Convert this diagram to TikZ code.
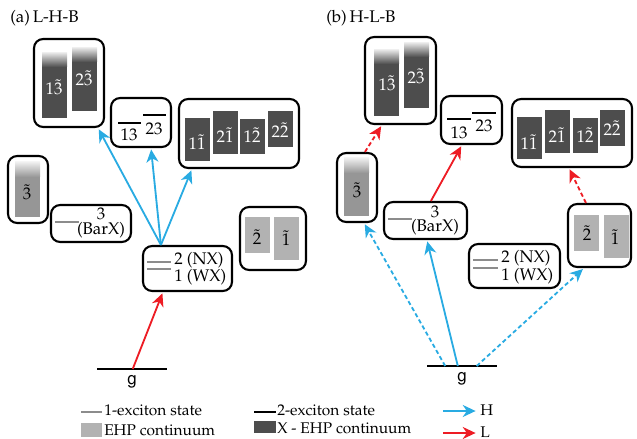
\documentclass[tikz,border=0pt]{standalone}
\usepackage[T1]{fontenc}
\usepackage{mathpazo}
\usepackage{helvet}
\usepackage{tikz}
\usetikzlibrary{positioning,calc,arrows.meta}

\definecolor{hblue}{RGB}{41,171,226}
\definecolor{lred}{RGB}{237,28,36}
\definecolor{xgray}{RGB}{77,77,77}
\definecolor{egray}{RGB}{178,178,178}
\definecolor{mgray}{RGB}{150,150,150}
\definecolor{lgray}{RGB}{140,140,140}

\tikzset{
  statebox/.style={draw, line width=1.5pt, rounded corners=2.3mm, inner sep=0pt},
  onex/.style={lgray, line width=1.3pt},
  twox/.style={black, line width=1.3pt},
  harr/.style={hblue, line width=1.3pt, shorten >=1pt,
    -{Stealth[length=3.2mm,width=3mm,inset=1mm]}},
  larr/.style={lred, line width=1.3pt, shorten >=1pt,
    -{Stealth[length=3.2mm,width=3mm,inset=1mm]}},
  xfade/.style={top color=xgray!15, bottom color=xgray},
  mfade/.style={top color=mgray!15, bottom color=mgray},
  blab/.style={text=white, inner sep=0pt, font=\fontsize{12}{14}\selectfont},
  klab/.style={inner sep=0pt, font=\fontsize{12}{14}\selectfont},
  leg/.style={inner sep=0pt, anchor=base west, font=\fontsize{11}{13}\selectfont},
}

\begin{document}
\begin{tikzpicture}[x=0.025cm, y=-0.025cm]
  \useasboundingbox (0,0) rectangle (637,439);

  % (a) L-H-B
  \node[klab, anchor=base west] (ta) at (10,22.5) {(a)\,L-H-B};

  \node[statebox, minimum width=1.75cm, minimum height=2.2cm] (a1) at (69,83) {};
  \fill[xgray] (42,53) rectangle (67,118);
  \shade[xfade] (42,53) rectangle (67,67);
  \fill[xgray] (72,48) rectangle (97,111);
  \shade[xfade] (72,48) rectangle (97,62);
  \node[blab] (a13) at (54,87) {$1\tilde{3}$};
  \node[blab] (a23) at (84,78) {$2\tilde{3}$};

  \node[statebox, minimum width=1.5cm, minimum height=1.225cm] (a2) at (141,122.5) {};
  \draw[twox] (118,123) -- (141,123);
  \draw[twox] (143,115) -- (166,115);
  \node[klab] (a13l) at (129,134.5) {13};
  \node[klab] (a23l) at (154,129) {23};

  \node[statebox, minimum width=3cm, minimum height=1.725cm] (a3) at (239,133.5) {};
  \fill[xgray] (185,118) rectangle (210,161);
  \fill[xgray] (213,111) rectangle (238,154);
  \fill[xgray] (240,119) rectangle (265,154);
  \fill[xgray] (268,111) rectangle (293,147);
  \node[blab] (a11) at (197,142) {$1\tilde{1}$};
  \node[blab] (a21) at (225,135) {$2\tilde{1}$};
  \node[blab] (a12) at (252,135) {$1\tilde{2}$};
  \node[blab] (a22) at (280,130) {$2\tilde{2}$};

  \node[statebox, minimum width=1cm, minimum height=1.675cm] (a4) at (28,189.5) {};
  \fill[mgray] (15,162) rectangle (40,217);
  \shade[mfade] (15,162) rectangle (40,177);
  \node[klab] (a3t) at (27,192) {$\tilde{3}$};

  \node[statebox, minimum width=2cm, minimum height=0.925cm] (a5) at (91,223.5) {};
  \draw[onex] (55,222) -- (79,222);
  \node[klab] (a5a) at (101,214) {3};
  \node[klab] (a5b) at (101,230) {(BarX)};

  \node[statebox, minimum width=2.225cm, minimum height=1.125cm] (a6) at (187.5,268.5) {};
  \draw[onex] (147,262) -- (171,262);
  \draw[onex] (147,269) -- (171,269);
  \node[klab, anchor=west] (a6a) at (174,260) {2 (NX)};
  \node[klab, anchor=west] (a6b) at (174,277) {1 (WX)};

  \node[statebox, minimum width=1.65cm, minimum height=1.575cm] (a7) at (273,238.5) {};
  \fill[egray] (245,217) rectangle (270,253);
  \fill[egray] (274,217) rectangle (299,260);
  \node[klab] (a2t) at (257,237) {$\tilde{2}$};
  \node[klab] (a1t) at (286,238) {$\tilde{1}$};

  \draw[twox] (97,369) coordinate (ga1) -- (167,369) coordinate (ga2);
  \node[klab] (ga) at (132,382) {\textsf{g}};

  \coordinate (a6top) at ($(a6.north west)+(19,0)$);
  \draw[larr] ($(ga1)!0.51!(ga2)$) -- ($(a6.south west)+(21,0)$);
  \draw[harr] (a6top) -- ($(a1.south east)+(-7,0)$);
  \draw[harr] (a6top) -- ($(a2.south)+(10,0)$);
  \draw[harr] (a6top) -- ($(a3.south west)+(14,0)$);

  % (b) H-L-B
  \node[klab, anchor=base west] (tb) at (326,22.5) {(b)\,H-L-B};

  \node[statebox, minimum width=1.775cm, minimum height=2.175cm] (b1) at (400.5,80.5) {};
  \fill[xgray] (374,50) rectangle (399,116);
  \shade[xfade] (374,50) rectangle (399,64);
  \fill[xgray] (404,43) rectangle (429,108);
  \shade[xfade] (404,43) rectangle (429,57);
  \node[blab] (b13) at (387,83) {$1\tilde{3}$};
  \node[blab] (b23) at (416,76) {$2\tilde{3}$};

  \node[statebox, minimum width=1.525cm, minimum height=1.2cm] (b2) at (471.5,120) {};
  \draw[twox] (447,119) -- (471,119);
  \draw[twox] (472,113) -- (496,113);
  \node[klab] (b13l) at (459,133) {13};
  \node[klab] (b23l) at (484,126) {23};

  \node[statebox, minimum width=3cm, minimum height=1.7cm] (b3) at (572,133) {};
  \fill[xgray] (517,117) rectangle (542,159);
  \fill[xgray] (545,110) rectangle (570,153);
  \fill[xgray] (573,118) rectangle (598,153);
  \fill[xgray] (600,110) rectangle (625,146);
  \node[blab] (b11) at (529,142) {$1\tilde{1}$};
  \node[blab] (b21) at (557,135) {$2\tilde{1}$};
  \node[blab] (b12) at (585,135) {$1\tilde{2}$};
  \node[blab] (b22) at (612,128) {$2\tilde{2}$};

  \node[statebox, minimum width=1cm, minimum height=1.725cm] (b4) at (357,187.5) {};
  \fill[mgray] (344,158) rectangle (369,216);
  \shade[mfade] (344,158) rectangle (369,173);
  \node[klab] (b3t) at (357,190) {$\tilde{3}$};

  \node[statebox, minimum width=2.075cm, minimum height=0.925cm] (b5) at (425.5,220.5) {};
  \draw[onex] (388,219) -- (412,219);
  \node[klab] (b5a) at (435,212) {3};
  \node[klab] (b5b) at (435,227) {(BarX)};

  \node[statebox, minimum width=2.275cm, minimum height=1.1cm] (b6) at (514.5,266) {};
  \draw[onex] (473,260) -- (498,260);
  \draw[onex] (473,268) -- (498,268);
  \node[klab, anchor=west] (b6a) at (501,258) {2 (NX)};
  \node[klab, anchor=west] (b6b) at (501,276) {1 (WX)};

  \node[statebox, minimum width=1.575cm, minimum height=1.575cm] (b7) at (599.5,235.5) {};
  \fill[egray] (574,215) rectangle (599,251);
  \fill[egray] (604,215) rectangle (629,258);
  \node[klab] (b2t) at (587,233) {$\tilde{2}$};
  \node[klab] (b1t) at (615,237) {$\tilde{1}$};

  \draw[twox] (427,366) coordinate (gb1) -- (497,366) coordinate (gb2);
  \node[klab] (gb) at (462,379) {\textsf{g}};

  \draw[harr] ($(gb1)!0.44!(gb2)$) -- ($(b5.south west)+(44,0)$);
  \draw[harr, densely dashed] ($(gb1)!0.26!(gb2)$) -- ($(b4.south east)+(-14,0)$);
  \draw[harr, densely dashed] ($(gb1)!0.71!(gb2)$) -- ($(b7.south west)+(17,0)$);
  \draw[larr] ($(b5.north west)+(48,0)$) -- ($(b2.south west)+(22,0)$);
  \draw[larr, densely dashed] ($(b4.north west)+(29,0)$) -- ($(b1.south west)+(18,0)$);
  \draw[larr, densely dashed] ($(b7.north west)+(19,0)$) -- ($(b3.south west)+(58,0)$);

  % legend
  \draw[onex] (81,412) -- (102,412);
  \node[leg] (l1) at (104,415.5) {1-exciton state};
  \fill[egray] (81,423) rectangle (102,437);
  \node[leg] (l2) at (104,435.5) {EHP continuum};
  \draw[twox] (254,412) -- (276,412);
  \node[leg] (l3) at (277,415.5) {2-exciton state};
  \fill[xgray] (254,421) rectangle (276,433);
  \node[leg] (l4) at (277,433) {X - EHP continuum};
  \coordinate (hs) at (443,411);
  \coordinate (he) at (477,411);
  \draw[harr] (hs) -- (he);
  \node[leg] (lh) at (480,415.5) {H};
  \coordinate (ls) at (443,433);
  \coordinate (le) at (477,433);
  \draw[larr] (ls) -- (le);
  \node[leg] (ll) at (480,437) {L};
\end{tikzpicture}
\end{document}
